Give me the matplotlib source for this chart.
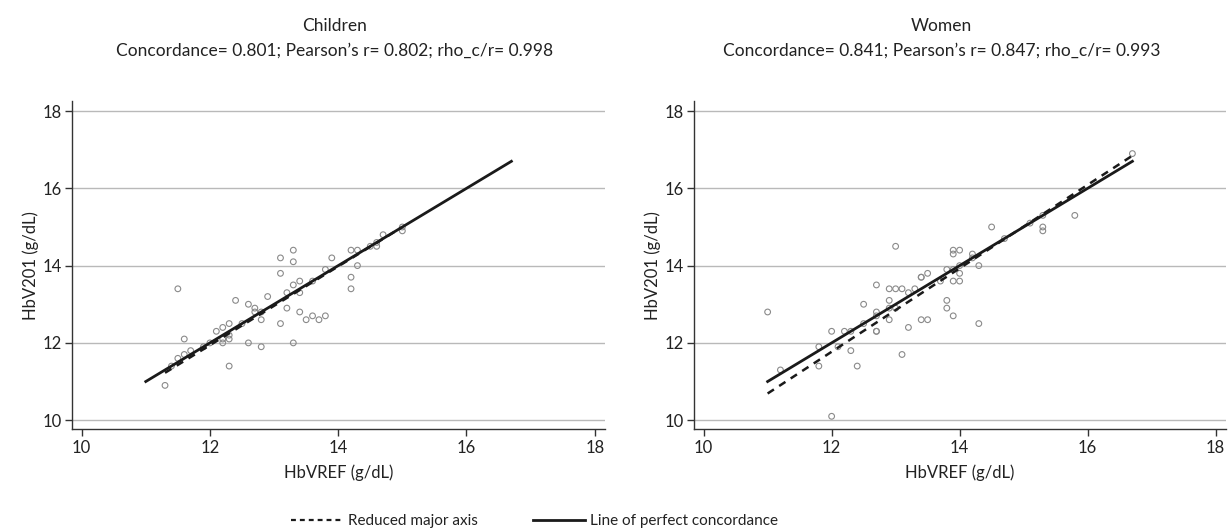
import matplotlib
matplotlib.use("Agg")
import matplotlib.pyplot as plt
from matplotlib.lines import Line2D
import numpy as np

plt.rcParams['font.family'] = ['Lato', 'DejaVu Sans']

# Children: HbVREF (x) vs HbV201 (y), g/dL
children_ref = [11.3, 11.5, 11.6, 11.5, 11.6, 11.7, 11.4, 11.9, 12.1, 12.2, 12.2, 12.2,
                12.3, 12.3, 12.3, 12.3, 12.4, 12.6, 12.6, 12.7, 12.7, 12.8, 12.8, 12.9,
                13.1, 13.1, 13.1, 13.2, 13.2, 13.3, 13.3, 13.3, 13.3, 13.4, 13.4, 13.4,
                13.5, 13.6, 13.7, 13.8, 13.8, 13.9, 14.2, 14.2, 14.2, 14.3, 14.3, 14.6,
                14.6, 15.0, 15.0, 13.6, 14.5, 14.7, 12.0, 12.5, 12.8]
children_v201 = [10.9, 13.4, 12.1, 11.6, 11.7, 11.8, 11.4, 11.9, 12.3, 12.4, 12.0, 12.1,
                 12.5, 12.1, 12.2, 11.4, 13.1, 13.0, 12.0, 12.9, 12.8, 12.6, 11.9, 13.2,
                 14.2, 13.8, 12.5, 13.3, 12.9, 14.4, 14.1, 13.5, 12.0, 13.6, 13.3, 12.8,
                 12.6, 12.7, 12.6, 13.9, 12.7, 14.2, 14.4, 13.7, 13.4, 14.4, 14.0, 14.5,
                 14.6, 14.9, 15.0, 13.6, 14.5, 14.8, 12.0, 12.5, 12.8]

# Women: HbVREF (x) vs HbV201 (y), g/dL
women_ref = [11.0, 11.2, 11.8, 11.8, 12.0, 12.0, 12.1, 12.2, 12.3, 12.3, 12.4, 12.5,
             12.5, 12.7, 12.7, 12.7, 12.7, 12.7, 12.9, 12.9, 12.9, 12.9, 13.0, 13.0,
             13.0, 13.1, 13.1, 13.2, 13.2, 13.3, 13.4, 13.4, 13.4, 13.5, 13.5, 13.7,
             13.8, 13.8, 13.8, 13.9, 13.9, 13.9, 13.9, 13.9, 14.0, 14.0, 14.0, 14.0,
             14.2, 14.2, 14.3, 14.3, 14.5, 14.7, 15.1, 15.3, 15.3, 15.3, 15.8, 16.7]
women_v201 = [12.8, 11.3, 11.9, 11.4, 12.3, 10.1, 11.9, 12.3, 12.3, 11.8, 11.4, 13.0,
              12.5, 13.5, 12.8, 12.3, 12.3, 12.7, 13.4, 13.1, 12.9, 12.6, 14.5, 13.4,
              12.9, 13.4, 11.7, 13.3, 12.4, 13.4, 13.7, 13.7, 12.6, 13.8, 12.6, 13.6,
              13.9, 13.1, 12.9, 14.4, 14.3, 13.9, 13.6, 12.7, 14.4, 13.8, 13.6, 14.0,
              14.3, 14.2, 14.0, 12.5, 15.0, 14.7, 15.1, 15.0, 14.9, 15.3, 15.3, 16.9]

# Reduced major axis fits (intercept, slope) and x-extent
children_rma = (-0.30, 1.02, 11.3, 15.0)
women_rma = (-1.19, 1.08, 11.0, 16.7)

# Line of perfect concordance extent
concordance_range = [11.0, 16.7]

titles = ["Children\nConcordance= 0.801; Pearson\u2019s r= 0.802; rho_c/r= 0.998",
          "Women\nConcordance= 0.841; Pearson\u2019s r= 0.847; rho_c/r= 0.993"]
title_x = [0.493, 0.466]
ticks = [10, 12, 14, 16, 18]

fig = plt.figure(figsize=(12.31, 5.31), dpi=100)
axes = [fig.add_axes([0.0585, 0.192, 0.433, 0.617]),
        fig.add_axes([0.5638, 0.192, 0.432, 0.617])]

datasets = [(children_ref, children_v201, children_rma),
            (women_ref, women_v201, women_rma)]

text_col = "#222222"
for ax, (xs, ys, rma), title, tx in zip(axes, datasets, titles, title_x):
    ax.set_xlim(9.85, 18.16)
    ax.set_ylim(9.77, 18.25)
    ax.set_xticks(ticks)
    ax.set_yticks(ticks)
    ax.yaxis.grid(True, color="#b9b9b9", linewidth=1.0)
    ax.set_axisbelow(True)
    for side in ("top", "right"):
        ax.spines[side].set_visible(False)
    for side in ("left", "bottom"):
        ax.spines[side].set_color("#333333")
        ax.spines[side].set_linewidth(1.0)
    ax.tick_params(direction="out", length=5, width=1.0, color="#333333",
                   labelsize=12, labelcolor=text_col, pad=3)
    ax.tick_params(axis="y", pad=2)

    ax.scatter(xs, ys, s=17, facecolors="none", edgecolors="#8a8a8a",
               linewidths=0.8, zorder=3)

    a, b, x0, x1 = rma
    rx = np.array([x0, x1])
    ax.plot(rx, a + b * rx, color="#1a1a1a", linestyle=(0, (3, 2.5)),
            linewidth=1.8, zorder=4)
    cx = np.array(concordance_range)
    ax.plot(cx, cx, color="#1a1a1a", linewidth=2.0, zorder=5)

    ax.set_xlabel("HbVREF (g/dL)", fontsize=12, color=text_col, labelpad=6)
    ax.set_ylabel("HbV201 (g/dL)", fontsize=12, color=text_col, labelpad=3)
    ax.set_title(title, fontsize=12.5, color=text_col, linespacing=1.65,
                 pad=33, x=tx)

handles = [Line2D([], [], color="#1a1a1a", linestyle=(0, (2.2, 1.8)), linewidth=1.6),
           Line2D([], [], color="#1a1a1a", linewidth=2.0)]
fig.legend(handles, ["Reduced major axis", "Line of perfect concordance"],
           loc="lower center", bbox_to_anchor=(0.434, -0.02), ncol=2,
           frameon=False, fontsize=11, handlelength=3.4, columnspacing=3.6,
           handletextpad=0.35, labelcolor=text_col)

fig.savefig("out.png", dpi=100)
